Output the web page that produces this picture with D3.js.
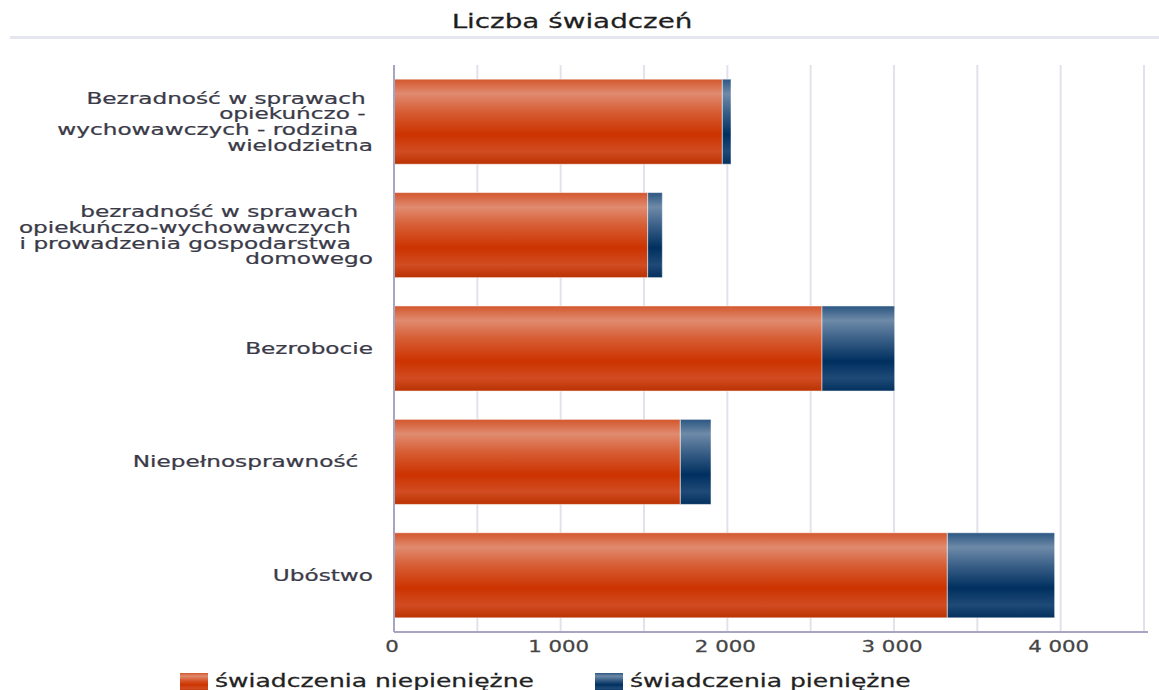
<!DOCTYPE html>
<html>
<head>
<meta charset="utf-8">
<script src="https://cdn.jsdelivr.net/npm/d3@7"></script>
<style>
  html, body { margin: 0; padding: 0; background: #fff; }
  svg { display: block; }
  text { font-family: "DejaVu Sans", Verdana, sans-serif; white-space: pre; }
</style>
</head>
<body>
<svg id="chart" width="1159" height="690"></svg>
<script>
// ---- data ----
const title = "Liczba świadczeń";
const categories = [
  "Bezradność w sprawach opiekuńczo - wychowawczych - rodzina wielodzietna",
  "bezradność w sprawach opiekuńczo-wychowawczych i prowadzenia gospodarstwa domowego",
  "Bezrobocie",
  "Niepełnosprawność",
  "Ubóstwo"
];
const categoryLines = [
  ["Bezradność w sprawach ", "opiekuńczo - ", "wychowawczych - rodzina  ", "wielodzietna"],
  ["bezradność w sprawach  ", "opiekuńczo-wychowawczych   ", "i prowadzenia gospodarstwa   ", "domowego"],
  ["Bezrobocie"],
  ["Niepełnosprawność  "],
  ["Ubóstwo"]
];
const seriesNames = ["świadczenia niepieniężne", "świadczenia pieniężne"];
const niepieniezne = [1970, 1522, 2568, 1718, 3320];
const pieniezne = [52, 88, 436, 184, 644];
const xTicks = [0, 1000, 2000, 3000, 4000];
const xGrid = [500, 1000, 1500, 2000, 2500, 3000, 3500, 4000, 4500];

// ---- layout ----
const pLeft = 394, pRight = 1144, pTop = 65, pBottom = 632;
const svg = d3.select("#chart");

const x = d3.scaleLinear().domain([0, 4500]).range([pLeft, pRight]);
const y = d3.scaleBand().domain(categories).range([pTop, pBottom]).paddingInner(0.25).paddingOuter(0.125);

const locale = d3.formatLocale({decimal: ",", thousands: " ", grouping: [3], currency: ["", ""]});
const fmt = locale.format(",d");

// gradients
const defs = svg.append("defs");
function grad(id, stops) {
  const g = defs.append("linearGradient").attr("id", id).attr("x1", 0).attr("y1", 0).attr("x2", 0).attr("y2", 1);
  stops.forEach(s => g.append("stop").attr("offset", s[0]).attr("stop-color", s[1]));
}
grad("gOrange", [[0, "#D3562C"], [0.17, "#E08B70"], [0.38, "#D75E35"], [0.65, "#CC3300"], [0.85, "#D14C22"], [1, "#BA3202"]]);
grad("gBlue", [[0, "#2B5681"], [0.17, "#6E8AA8"], [0.38, "#3C6189"], [0.65, "#00305F"], [0.85, "#1F4A77"], [1, "#03305E"]]);

function heavy(sel, color) {
  return sel.attr("fill", color).attr("stroke", color).attr("stroke-width", 0.25);
}

// title
heavy(svg.append("text")
  .attr("transform", `translate(572,28) scale(1.39,1)`)
  .attr("text-anchor", "middle")
  .attr("font-size", 20), "#1e1e1e")
  .text(title);
svg.append("rect").attr("x", 10).attr("y", 36).attr("width", 1149).attr("height", 3).attr("fill", "#e6e6ee");

// grid
svg.append("g").selectAll("line").data(xGrid).join("line")
  .attr("x1", d => x(d)).attr("x2", d => x(d))
  .attr("y1", pTop).attr("y2", pBottom)
  .attr("stroke", "#e2e2ea").attr("stroke-width", 2);

// bars
const stack = categories.map((c, i) => ({c, a: niepieniezne[i], b: pieniezne[i]}));
const bars = svg.append("g");
bars.selectAll("rect.a").data(stack).join("rect")
  .attr("class", "a")
  .attr("x", x(0)).attr("y", d => y(d.c))
  .attr("width", d => x(d.a) - x(0)).attr("height", y.bandwidth())
  .attr("fill", "url(#gOrange)")
  .attr("stroke", "#ffffff").attr("stroke-opacity", 0.5).attr("stroke-width", 1);
bars.selectAll("rect.b").data(stack).join("rect")
  .attr("class", "b")
  .attr("x", d => x(d.a)).attr("y", d => y(d.c))
  .attr("width", d => x(d.a + d.b) - x(d.a)).attr("height", y.bandwidth())
  .attr("fill", "url(#gBlue)")
  .attr("stroke", "#ffffff").attr("stroke-opacity", 0.5).attr("stroke-width", 1);

// axes lines
svg.append("line").attr("x1", pLeft).attr("x2", pLeft).attr("y1", pTop).attr("y2", pBottom)
  .attr("stroke", "#a6a6c4").attr("stroke-width", 2);
svg.append("line").attr("x1", pLeft).attr("x2", 1148).attr("y1", pBottom).attr("y2", pBottom)
  .attr("stroke", "#a6a6c4").attr("stroke-width", 2);

// x tick labels
heavy(svg.append("g").selectAll("text").data(xTicks).join("text")
  .attr("transform", d => `translate(${x(d) - 2},652) scale(1.42,1)`)
  .attr("text-anchor", "middle")
  .attr("font-size", 15), "#454545")
  .text(d => fmt(d));

// y labels
const lh = 15.8;
const yl = svg.append("g");
categories.forEach((c, i) => {
  const lines = categoryLines[i];
  const cy = y(c) + y.bandwidth() / 2;
  const first = cy - (lines.length - 1) / 2 * lh + 5.5;
  lines.forEach((ln, j) => {
    heavy(yl.append("text")
      .attr("transform", `translate(373,${first + j * lh}) scale(1.45,1)`)
      .attr("text-anchor", "end")
      .attr("font-size", 16), "#3a3a48")
      .text(ln);
  });
});

// legend
const legendX = [180, 595];
const legendFill = ["url(#gOrange)", "url(#gBlue)"];
const lg = svg.append("g");
seriesNames.forEach((n, i) => {
  lg.append("rect").attr("x", legendX[i]).attr("y", 673).attr("width", 28).attr("height", 18)
    .attr("fill", legendFill[i]);
  heavy(lg.append("text")
    .attr("transform", `translate(${legendX[i] + 35},687) scale(1.43,1)`)
    .attr("font-size", 17.5), "#222")
    .text(n);
});
</script>
</body>
</html>
